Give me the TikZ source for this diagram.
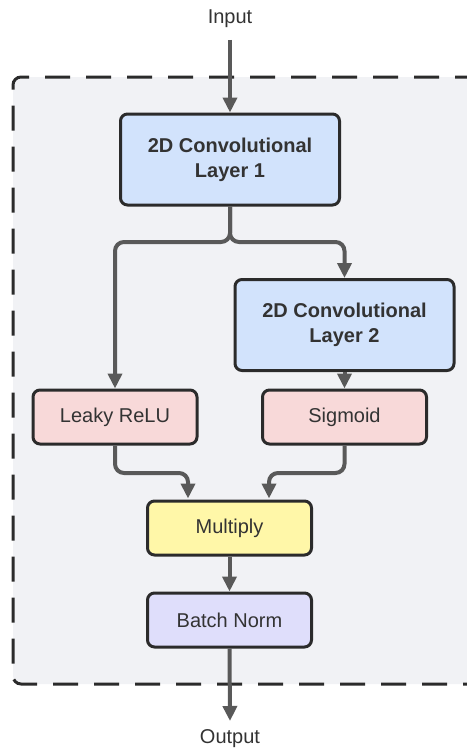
\documentclass[tikz,border=0pt]{standalone}
\usepackage{fontspec}
\setmainfont{Liberation Sans}
\usetikzlibrary{arrows.meta}
\definecolor{linegray}{HTML}{595959}
\definecolor{boxborder}{HTML}{2B2B2B}
\definecolor{txt}{HTML}{333333}
\definecolor{framebg}{HTML}{F1F2F5}
\definecolor{convblue}{HTML}{D2E3FC}
\definecolor{actpink}{HTML}{F8D9D9}
\definecolor{mulyellow}{HTML}{FFF7A8}
\definecolor{normlav}{HTML}{DFDEFB}
\begin{document}
\begin{tikzpicture}[x=1pt,y=-1pt,
  box/.style={draw=boxborder,line width=3pt,rounded corners=7pt,text=txt,
    font=\fontsize{20}{25}\selectfont,align=center,inner sep=0pt},
  convbox/.style={box,fill=convblue,font=\fontsize{20}{25}\selectfont\bfseries,
    minimum width=219pt,minimum height=91pt},
  smallbox/.style={box,minimum width=164pt,minimum height=54pt},
  conn/.style={draw=linegray,line width=4pt,rounded corners=9pt,
    -{Triangle[length=15pt,width=14pt]}},
  lbl/.style={text=txt,font=\fontsize{20}{24}\selectfont,inner sep=0pt}]
\useasboundingbox (0,0) rectangle (466,752);
% frame
\draw[fill=framebg,draw=boxborder,line width=3pt,dash pattern=on 25pt off 16pt,rounded corners=8pt]
  (480,77) -- (13,77) -- (13,684) -- (480,684);
% nodes
\node[lbl] (in) at (230,19) {Input};
\node[convbox] (c1) at (230,159.5) {2D Convolutional\\Layer 1};
\node[convbox] (c2) at (344.5,325) {2D Convolutional\\Layer 2};
\node[smallbox,fill=actpink] (lr) at (115,417) {Leaky ReLU};
\node[smallbox,fill=actpink] (sg) at (344.5,417) {Sigmoid};
\node[smallbox,fill=mulyellow] (mu) at (229.5,528) {Multiply};
\node[smallbox,fill=normlav] (bn) at (229.5,620) {Batch Norm};
\node[lbl] (out) at (230,739) {Output};
\coordinate (split) at (230,242);
\coordinate (intop) at (230,40);
\coordinate (outend) at (230,721);
% connectors
\draw[conn] (intop) -- (c1.north);
\draw[conn] (c1.south) -- (split) -| (lr.north);
\draw[conn] (c1.south) -- (split) -| (c2.north);
\draw[conn] (c2.south) -- (sg.north);
\draw[conn] (lr.south) |- (188,473) -- (188,498.5);
\draw[conn] (sg.south) |- (269,473) -- (269,498.5);
\draw[conn] (mu.south) -- (bn.north);
\draw[conn] (bn.south) -- (outend);
\end{tikzpicture}
\end{document}
